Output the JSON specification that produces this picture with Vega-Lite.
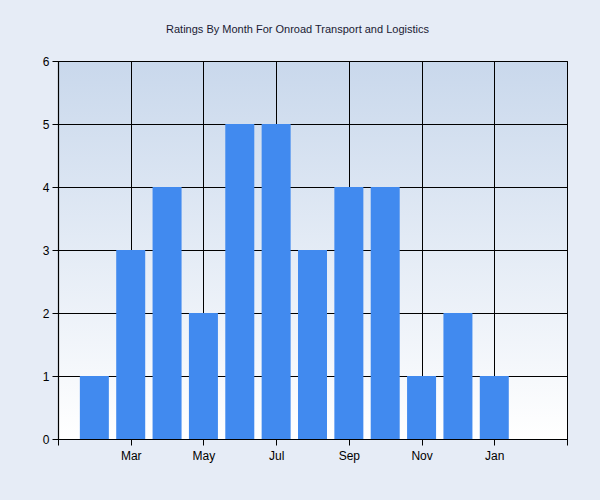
{
  "$schema": "https://vega.github.io/schema/vega-lite/v6.json",
  "width": 509,
  "height": 378,
  "autosize": {"type": "none"},
  "padding": {"left": 58, "top": 61, "right": 33, "bottom": 61},
  "background": "#e6ecf6",
  "title": {
    "text": "Ratings By Month For Onroad Transport and Logistics",
    "fontSize": 11,
    "fontWeight": "normal",
    "font": "Liberation Sans",
    "color": "#1a1a33",
    "offset": 20,
    "dx": -15
  },
  "config": {
    "view": {
      "stroke": "#000000",
      "strokeWidth": 1,
      "fill": {
        "gradient": "linear",
        "x1": 0, "y1": 0, "x2": 0, "y2": 1,
        "stops": [
          {"offset": 0, "color": "#c9d8ec"},
          {"offset": 1, "color": "#ffffff"}
        ]
      }
    },
    "axis": {
      "labelFont": "Liberation Sans",
      "labelFontSize": 12,
      "labelColor": "#000000",
      "domainColor": "#000000",
      "tickColor": "#000000",
      "gridColor": "#000000",
      "gridOpacity": 1,
      "gridWidth": 1,
      "domainWidth": 1.2,
      "tickSize": 6,
      "title": null
    }
  },
  "data": {
    "values": [
      {"month": "2012-02", "rating": 1},
      {"month": "2012-03", "rating": 3},
      {"month": "2012-04", "rating": 4},
      {"month": "2012-05", "rating": 2},
      {"month": "2012-06", "rating": 5},
      {"month": "2012-07", "rating": 5},
      {"month": "2012-08", "rating": 3},
      {"month": "2012-09", "rating": 4},
      {"month": "2012-10", "rating": 4},
      {"month": "2012-11", "rating": 1},
      {"month": "2012-12", "rating": 2},
      {"month": "2013-01", "rating": 1}
    ]
  },
  "mark": {"type": "bar", "color": "#418aef", "size": 29},
  "encoding": {
    "x": {
      "field": "month",
      "type": "ordinal",
      "scale": {
        "type": "point",
        "padding": 0,
        "domain": ["2012-01", "2012-02", "2012-03", "2012-04", "2012-05", "2012-06", "2012-07", "2012-08", "2012-09", "2012-10", "2012-11", "2012-12", "2013-01", "2013-02", "2013-03"]
      },
      "axis": {
        "values": ["2012-01", "2012-03", "2012-05", "2012-07", "2012-09", "2012-11", "2013-01", "2013-03"],
        "labelExpr": "datum.value == '2012-01' || datum.value == '2013-03' ? '' : utcFormat(toDate(datum.value + '-01'), '%b')",
        "labelAngle": 0,
        "labelPadding": 5,
        "grid": true,
        "labelAlign": "center"
      }
    },
    "y": {
      "field": "rating",
      "type": "quantitative",
      "scale": {"domain": [0, 6]},
      "axis": {
        "values": [0, 1, 2, 3, 4, 5, 6],
        "labelPadding": 3,
        "grid": true
      }
    }
  }
}
